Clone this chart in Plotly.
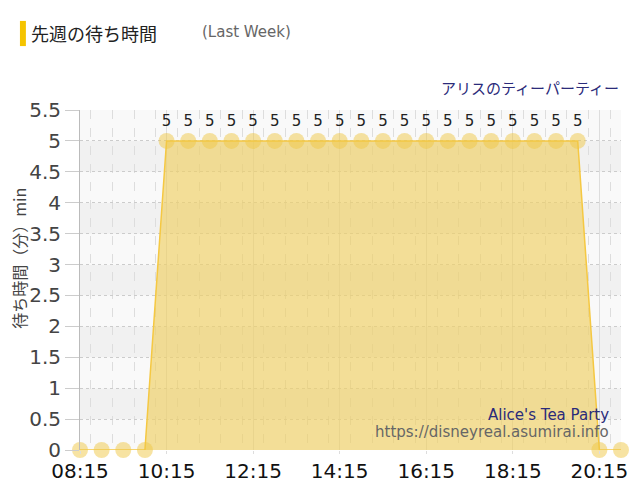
import plotly.graph_objects as go

times = ["2024-01-01 08:15", "2024-01-01 08:45", "2024-01-01 09:15", "2024-01-01 09:45",
         "2024-01-01 10:15", "2024-01-01 10:45", "2024-01-01 11:15", "2024-01-01 11:45",
         "2024-01-01 12:15", "2024-01-01 12:45", "2024-01-01 13:15", "2024-01-01 13:45",
         "2024-01-01 14:15", "2024-01-01 14:45", "2024-01-01 15:15", "2024-01-01 15:45",
         "2024-01-01 16:15", "2024-01-01 16:45", "2024-01-01 17:15", "2024-01-01 17:45",
         "2024-01-01 18:15", "2024-01-01 18:45", "2024-01-01 19:15", "2024-01-01 19:45",
         "2024-01-01 20:15", "2024-01-01 20:45"]
waits = [0, 0, 0, 0, 5, 5, 5, 5, 5, 5, 5, 5, 5, 5, 5, 5, 5, 5, 5, 5, 5, 5, 5, 5, 0, 0]
labels = [str(w) if w > 0 else "" for w in waits]

fig = go.Figure()
fig.add_trace(go.Scatter(
    x=times, y=waits, mode="lines+markers+text",
    text=labels, textposition="top center",
    textfont=dict(family="DejaVu Sans", size=15, color="#222"),
    line=dict(color="#f5c842", width=1.5),
    marker=dict(size=16, color="rgba(240,200,70,0.5)"),
    fill="tozeroy", fillcolor="rgba(240,208,100,0.66)",
    cliponaxis=False, hoverinfo="x+y"))

# alternating horizontal bands
shapes = []
for i in range(11):
    shapes.append(dict(type="rect", xref="paper", yref="y", x0=0, x1=1,
                       y0=i * 0.5, y1=i * 0.5 + 0.5, layer="below", line_width=0,
                       fillcolor="#f9f9f9" if i % 2 == 0 else "#f1f1f1"))
# yellow bar by title
shapes.append(dict(type="rect", xref="paper", yref="paper", x0=-0.111, x1=-0.1,
                   y0=1.188, y1=1.262, line_width=0, fillcolor="#f5c400"))

# page body adds an 8px offset, so the figure is a bit smaller than the window
fig.update_layout(
    width=632, height=492,
    margin=dict(l=72, r=12, t=102, b=50),
    paper_bgcolor="white", plot_bgcolor="white",
    showlegend=False, shapes=shapes,
    font=dict(family="DejaVu Sans", color="#333"),
    xaxis=dict(range=["2024-01-01 08:15", "2024-01-01 20:45"],
               tick0="2024-01-01 08:15", dtick=7200000, tickformat="%H:%M",
               tickfont=dict(size=20, color="#111"),
               showgrid=True, gridcolor="#dddddd", gridwidth=1,
               ticks="outside", ticklen=3, tickcolor="#dddddd",
               minor=dict(dtick=1800000, showgrid=True, gridcolor="#dddddd", griddash="dash"),
               zeroline=False, showline=False),
    yaxis=dict(range=[0, 5.5], dtick=0.5, tickfont=dict(size=20, color="#444"),
               showgrid=True, gridcolor="#cccccc", griddash="dot",
               ticks="outside", ticklen=14, tickcolor="#cccccc",
               showline=True, linecolor="#bbbbbb", zeroline=False),
    annotations=[
        dict(text="待ち時間（分）min", xref="paper", yref="paper", x=-0.113, y=0.565,
             textangle=-90, xanchor="center", yanchor="middle", showarrow=False,
             font=dict(family="Noto Sans CJK JP", size=16, color="#444")),
        dict(text="先週の待ち時間", xref="paper", yref="paper", x=-0.094, y=1.226,
             xanchor="left", yanchor="middle", showarrow=False,
             font=dict(family="Noto Sans CJK JP", size=18, color="#222")),
        dict(text="(Last Week)", xref="paper", yref="paper", x=0.222, y=1.23,
             xanchor="left", yanchor="middle", showarrow=False,
             font=dict(family="DejaVu Sans", size=15, color="#666")),
        dict(text="アリスのティーパーティー", xref="paper", yref="paper", x=1.0, y=1.065,
             xanchor="right", yanchor="middle", showarrow=False,
             font=dict(family="Noto Sans CJK JP", size=15, color="#2b2b7a")),
        dict(text="Alice's Tea Party", xref="paper", yref="paper", x=0.982, y=0.102,
             xanchor="right", yanchor="middle", showarrow=False,
             font=dict(family="DejaVu Sans", size=15, color="#2b2b7a")),
        dict(text="https://disneyreal.asumirai.info", xref="paper", yref="paper", x=0.982, y=0.053,
             xanchor="right", yanchor="middle", showarrow=False,
             font=dict(family="DejaVu Sans", size=15, color="#666")),
    ])

fig.write_html("out.html")
